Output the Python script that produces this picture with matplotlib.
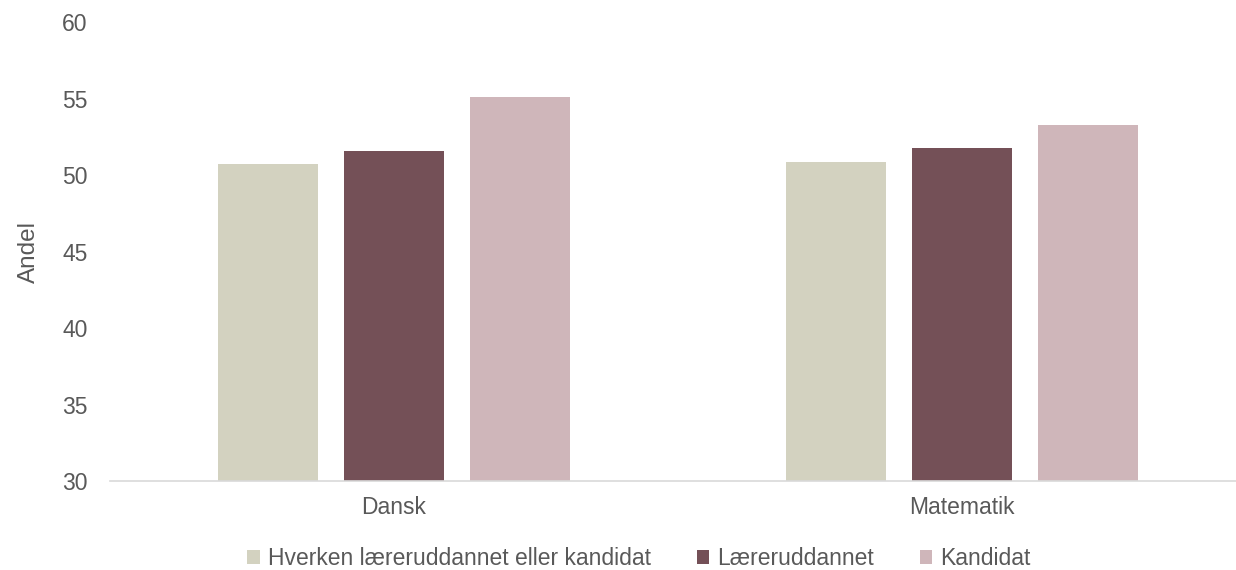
import numpy as np
import matplotlib
matplotlib.use("Agg")
import matplotlib.pyplot as plt

# data
fag = ["Dansk", "Matematik"]
grupper = ["Hverken læreruddannet eller kandidat", "Læreruddannet", "Kandidat"]
hverken = [50.7, 50.85]
laereruddannet = [51.6, 51.8]
kandidat = [55.1, 53.3]
farver = ["#d3d2c0", "#745057", "#cfb6ba"]

plt.rcParams['font.family'] = ['Liberation Sans', 'DejaVu Sans']
tekst = "#595959"

fig = plt.figure(figsize=(12.36, 5.70), dpi=100)
ax = fig.add_axes([0.089, 0.156, 0.911, 0.805])

x = np.arange(len(fag))
bredde = 0.176
afstand = 0.222
for i, (vals, navn) in enumerate(zip([hverken, laereruddannet, kandidat], grupper)):
    ax.bar(x + (i - 1) * afstand, np.array(vals) - 30, bredde, bottom=30,
           color=farver[i], label=navn)

ax.set_ylim(30, 60)
ax.set_yticks(range(30, 61, 5))
ax.set_xlim(-0.5, 1.482)
ax.set_xticks(x)
ax.set_xticklabels(fag)
ax.tick_params(axis='both', length=0, labelsize=16.5, colors=tekst)
ax.tick_params(axis='x', pad=11)
ax.tick_params(axis='y', pad=16)
for s in ['top', 'right', 'left']:
    ax.spines[s].set_visible(False)
ax.spines['bottom'].set_color('#d9d9d9')
ax.spines['bottom'].set_linewidth(1.2)
ax.set_ylabel("Andel", fontsize=17.5, color=tekst, labelpad=16)

fig.legend(loc='lower center', ncol=3, frameon=False, fontsize=16.5,
           handlelength=0.55, handleheight=0.55, handletextpad=0.35,
           columnspacing=2.0, labelcolor=tekst, bbox_to_anchor=(0.517, -0.037))

fig.savefig("out.png", dpi=100)
